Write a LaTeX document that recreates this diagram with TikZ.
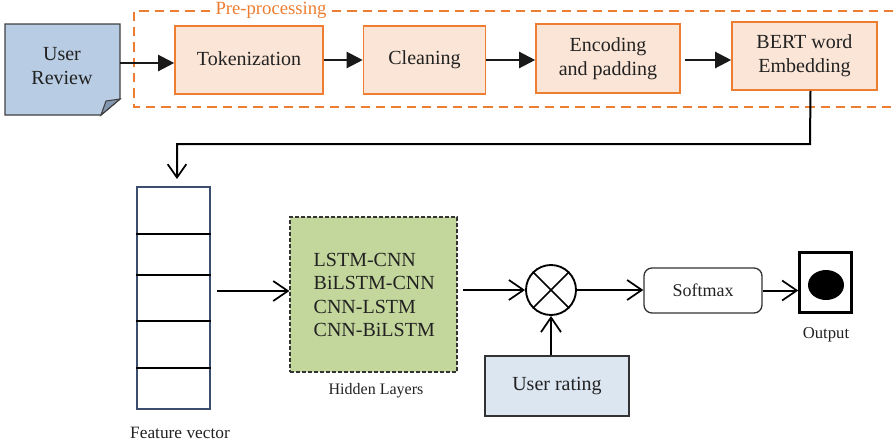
\documentclass[tikz,border=0pt]{standalone}
\usepackage{fontspec}
\setmainfont{Liberation Serif}
\usetikzlibrary{arrows.meta}
\definecolor{orng}{HTML}{ED7D31}
\definecolor{orngfill}{HTML}{FBE5D6}
\definecolor{docblue}{HTML}{B8CCE4}
\definecolor{folde}{HTML}{8497B0}
\definecolor{hidgreen}{HTML}{C3D69B}
\definecolor{ratefill}{HTML}{DCE6F1}
\definecolor{fvborder}{HTML}{3B4E6E}
\definecolor{txt}{HTML}{222222}
\tikzset{
  prebox/.style={draw=orng, line width=1.2pt, fill=orngfill, text=txt, font=\fontsize{15}{18}\selectfont, align=center, inner sep=0pt},
  filledarr/.style={-{Triangle[length=12pt,width=12pt]}, line width=1.7pt, draw=black!90},
  barbarr/.style={-{Straight Barb[length=11pt,width=15pt,line width=1.3pt]}, line width=1.5pt},
}
\begin{document}
\begin{tikzpicture}[x=0.75pt,y=-0.75pt]
\useasboundingbox (0,0) rectangle (893,447);
% pre-processing dashed frame
\draw[orng, dashed, dash pattern=on 7pt off 4.5pt, line width=0.8pt] (210,11) -- (134,11) -- (134,107) -- (893,107);
\draw[orng, dashed, dash pattern=on 7pt off 4.5pt, line width=0.8pt] (332,11) -- (893,11);
\node[text=orng, font=\fontsize{14}{16}\selectfont, fill=white, inner sep=1pt] (pre) at (271,10) {Pre-processing};
% user review document
\draw[fill=docblue, draw=black!75, line width=1pt] (5,24) -- (120,24) -- (120,99) -- (101,115) -- (5,115) -- cycle;
\draw[fill=folde, draw=black!75, line width=0.8pt] (101,115) -- (106,101) -- (120,99) -- cycle;
\node[text=txt, font=\fontsize{15}{18}\selectfont, align=center] (ur) at (62,66) {User\\Review};
\coordinate (urE) at (120,63);
% boxes
\node[prebox, minimum width=148*0.75pt, minimum height=68*0.75pt] (tok) at (249,60) {\raisebox{2.5pt}{Tokenization}};
\node[prebox, minimum width=122*0.75pt, minimum height=68*0.75pt] (cln) at (424.5,60) {\raisebox{2.5pt}{Cleaning}};
\node[prebox, minimum width=144*0.75pt, minimum height=69*0.75pt] (enc) at (608,58.5) {Encoding\\and padding};
\node[prebox, minimum width=145*0.75pt, minimum height=68*0.75pt] (bert) at (804.5,56) {BERT word\\Embedding};
\draw[filledarr] (urE) -- (tok.west |- urE);
\draw[filledarr] (tok.east) ++(0,0) -- (cln.west);
\draw[filledarr] (cln.east |- 0,60) -- (enc.west |- 0,60);
\draw[filledarr] ([xshift=3pt]enc.east |- 0,60) -- (bert.west |- 0,60);
% feature vector
\node[draw=fvborder, line width=1pt, minimum width=73*0.75pt, minimum height=222*0.75pt, inner sep=0pt] (fv) at (173.5,298) {};
\foreach \yy in {234,275,321,368} \draw[line width=1.2pt] (fv.west |- 0,\yy) -- (fv.east |- 0,\yy);
\node[text=txt, font=\fontsize{13}{15}\selectfont] (fvl) at (180,433) {Feature vector};
\coordinate (bend1) at (810,144);
\coordinate (bend2) at (177,144);
\draw[line width=1.5pt, -{Straight Barb[length=10pt,width=14pt,line width=1.3pt]}] ([xshift=4.5pt]bert.south) -- (bend1) -- (bend2) -- (177,179);
% hidden layers
\node[draw=black!80, dashed, dash pattern=on 3pt off 1.5pt, line width=0.9pt, fill=hidgreen, minimum width=167*0.75pt, minimum height=155*0.75pt, inner sep=0pt] (hid) at (373.5,294.5) {};
\node[text=txt, font=\fontsize{15}{17.3}\selectfont, align=left, anchor=west] (hidt) at (309,295) {LSTM-CNN\\BiLSTM-CNN\\CNN-LSTM\\CNN-BiLSTM};
\node[text=txt, font=\fontsize{12}{14}\selectfont] (hidl) at (376,391) {Hidden Layers};
\draw[barbarr] (fv.east |- 0,291) ++(5pt,0) -- (hid.west |- 0,291);
% otimes
\node[draw, circle, line width=1.4pt, minimum size=50*0.75pt, inner sep=0pt] (ot) at (551,290) {};
\draw[line width=1.2pt] (ot.north west) -- (ot.south east) (ot.north east) -- (ot.south west);
\draw[barbarr] ([xshift=4pt]hid.east |- ot.west) -- (ot.west);
% user rating
\node[draw=black!80, line width=1pt, fill=ratefill, minimum width=144*0.75pt, minimum height=60*0.75pt, inner sep=0pt, text=txt, font=\fontsize{15}{18}\selectfont] (ur2) at (557,386) {User rating};
\draw[barbarr] (ur2.north -| ot.south) -- (ot.south);
% softmax
\node[draw=black!80, line width=1pt, rounded corners=6pt, minimum width=118*0.75pt, minimum height=45*0.75pt, inner sep=0pt, text=txt, font=\fontsize{13.5}{16}\selectfont] (sm) at (703,290.5) {Softmax};
\draw[barbarr] (ot.east) -- (sm.west |- ot.east);
% output
\node[draw=black, line width=1.8pt, minimum width=52*0.75pt, minimum height=60*0.75pt, inner sep=0pt] (out) at (825.5,282.5) {};
\fill[black] (826,285) ellipse[x radius=18*0.75pt, y radius=15*0.75pt];
\draw[barbarr] (sm.east) -- (out.west |- sm.east);
\node[text=txt, font=\fontsize{12.5}{15}\selectfont] (outl) at (826,335) {Output};
\end{tikzpicture}
\end{document}
